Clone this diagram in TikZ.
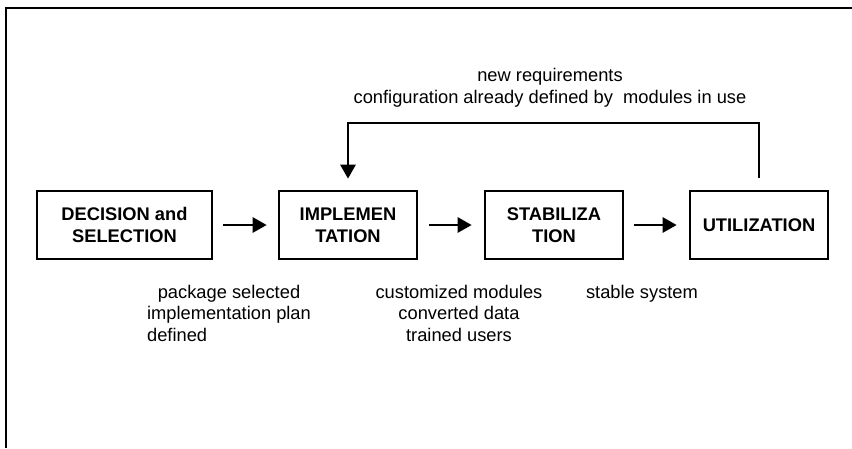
\documentclass[tikz,border=0pt]{standalone}
\usepackage{fontspec}
\setmainfont{Liberation Sans}
\usetikzlibrary{arrows.meta}
\tikzset{
  stage/.style={draw, line width=2.6pt, minimum height=68pt, inner sep=0pt,
    align=center, font=\fontsize{18.3}{22}\selectfont\bfseries},
  flow/.style={line width=2.8pt, -{Triangle[length=14pt,width=15pt]}},
  note/.style={align=center, inner sep=0pt, font=\fontsize{18.3}{21.5}\selectfont},
}
\begin{document}
\begin{tikzpicture}[x=1pt,y=-1pt]
\useasboundingbox (0,0) rectangle (852,448);
% open frame: top and left edges only
\draw[line width=2.4pt] (852,8) -- (6,8) -- (6,448);

% the four stages
\node[stage, minimum width=175pt] (dec) at (124.5,225) {DECISION and\\SELECTION};
\node[stage, minimum width=138pt] (imp) at (348,225) {IMPLEMEN\\TATION};
\node[stage, minimum width=138pt] (sta) at (554,225) {STABILIZA\\TION};
\node[stage, minimum width=138pt] (uti) at (759,225) {UTILIZATION};

% forward flow
\draw[flow, shorten <=10pt, shorten >=11pt] (dec) -- (imp);
\draw[flow, shorten <=11pt, shorten >=12pt] (imp) -- (sta);
\draw[flow, shorten <=10pt, shorten >=12pt] (sta) -- (uti);

% feedback loop from utilization back to implementation
\coordinate (loop) at (0,123);
\draw[flow] ([yshift=12pt]uti.north) -- (uti.north |- loop) -- (imp.north |- loop)
  -- ([yshift=11pt]imp.north);

% labels
\node[note] (fbl) at (550,88) {new requirements\\configuration already defined by\ \ modules in use};
\node[note, anchor=north] (out1) at (229,285) {package selected\\implementation plan};
\node[note, anchor=north west] (out1b) at ([yshift=-4pt]out1.south west) {defined};
\node[note, anchor=north] (out2) at (459,285) {customized modules\\converted data\\trained users};
\node[note, anchor=north] (out3) at (642,285) {stable system};
\end{tikzpicture}
\end{document}
